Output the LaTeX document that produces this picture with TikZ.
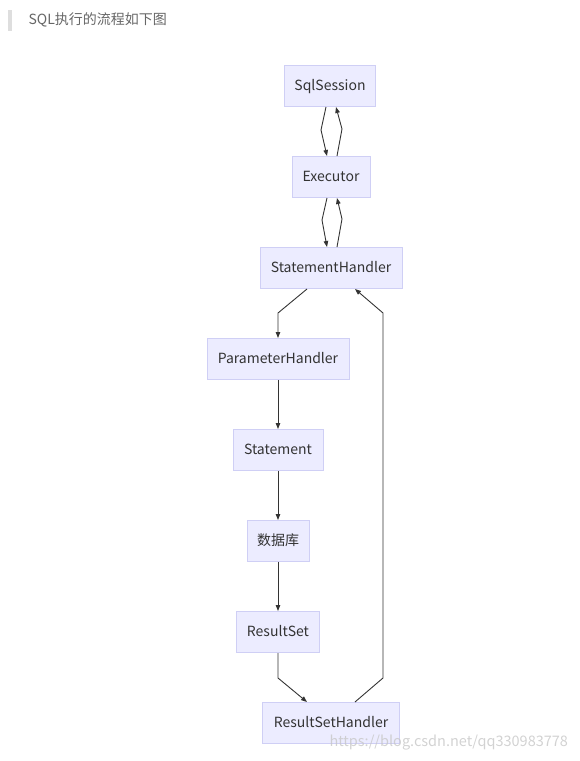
\documentclass[tikz,border=0pt]{standalone}
\usepackage{fontspec}
\setmainfont{Noto Sans CJK SC}
\usetikzlibrary{arrows.meta, calc}
\definecolor{boxfill}{HTML}{ECECFF}
\definecolor{boxline}{HTML}{CFCFF5}
\definecolor{linkcol}{HTML}{333333}
\definecolor{titlecol}{HTML}{666666}

\begin{document}
\begin{tikzpicture}[x=1pt, y=-1pt,
    flowbox/.style={draw=boxline, fill=boxfill, line width=1pt, minimum height=41pt,
        inner xsep=10pt, text height=11pt, text depth=2pt,
        font=\fontsize{14}{16}\selectfont, text=linkcol},
    link/.style={draw=linkcol, line width=0.9pt, -{Triangle[length=6pt, width=4.5pt]}}]
    \useasboundingbox (0,0) rectangle (579,761);

    % Title
    \fill[black!13] (8,10) rectangle (12,31);
    \node[anchor=west, text=titlecol, font=\fontsize{14}{16}\selectfont] (title) at (25,20) {SQL执行的流程如下图};

    % Boxes
    \node[flowbox, minimum width=90pt] (sql) at (330,86) {SqlSession};
    \node[flowbox, minimum width=78pt] (exe) at (331,177) {Executor};
    \node[flowbox, minimum width=142pt] (sth) at (331,268) {StatementHandler};
    \node[flowbox, minimum width=142pt] (par) at (278,359) {ParameterHandler};
    \node[flowbox, minimum width=90pt] (stm) at (278,450) {Statement};
    \node[flowbox, minimum width=62pt] (db) at (278,541) {数据库};
    \node[flowbox, minimum width=82pt] (rs) at (278,632) {ResultSet};
    \node[flowbox, minimum width=137pt] (rsh) at (331,723) {ResultSetHandler};

    % SqlSession <-> Executor
    \draw[link] ([xshift=-4pt]sql.south) -- ++(-5,23) -- ([xshift=-4pt]exe.north);
    \draw[link] ([xshift=6pt]exe.north) -- ++(5,-27) -- ([xshift=6pt]sql.south);

    % Executor <-> StatementHandler
    \draw[link] ([xshift=-4pt]exe.south) -- ++(-5,22) -- ([xshift=-4pt]sth.north);
    \draw[link] ([xshift=6pt]sth.north) -- ++(5,-28) -- ([xshift=6pt]exe.south);

    % down the chain
    \draw[link] ([xshift=-24pt]sth.south) -- (par.north |- 0,313) -- (par.north);
    \draw[link] (par) -- (stm);
    \draw[link] (stm) -- (db);
    \draw[link] (db) -- (rs);
    \draw[link] (rs.south) -- (278,678) -- ([xshift=-24pt]rsh.north);

    % back up to StatementHandler
    \draw[link] ([xshift=24pt]rsh.north) -- (383,678) -- (383,313) -- ([xshift=24pt]sth.south);

    % watermark
    \node[anchor=west, text=black!22, font=\fontsize{14.5}{17}\selectfont, opacity=0.8] (mark) at (326,743) {https://blog.csdn.net/qq330983778};
\end{tikzpicture}
\end{document}
